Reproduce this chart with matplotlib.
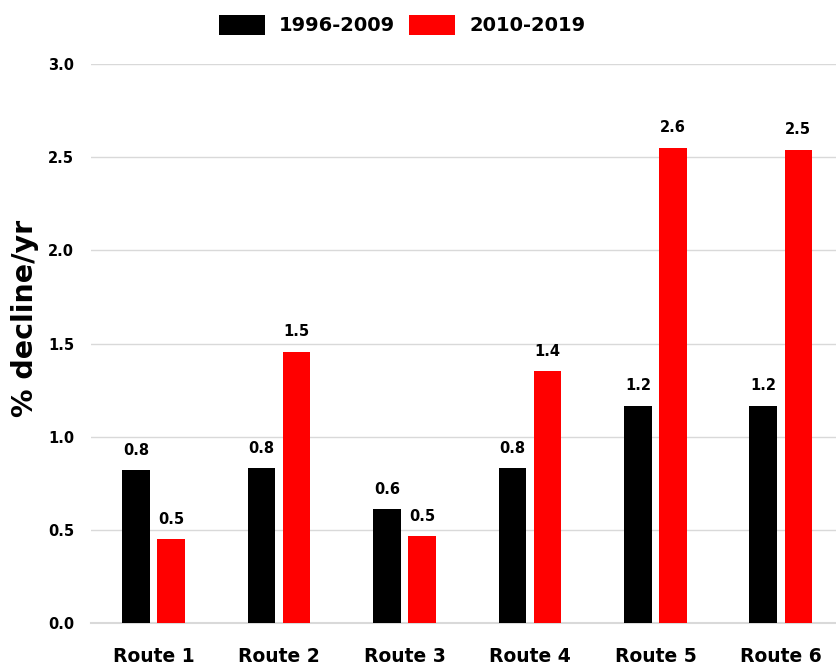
import numpy as np
import matplotlib.pyplot as plt

# data
routes = ['Route 1', 'Route 2', 'Route 3', 'Route 4', 'Route 5', 'Route 6']
early = [0.82, 0.83, 0.61, 0.83, 1.165, 1.165]
late = [0.45, 1.455, 0.465, 1.35, 2.551, 2.54]
series = ['1996-2009', '2010-2019']
yticks = [0.0, 0.5, 1.0, 1.5, 2.0, 2.5, 3.0]

plt.rc('font', family='DejaVu Sans', weight='bold')

fig = plt.figure(figsize=(8.36, 6.67), dpi=100)
ax = fig.add_axes([91 / 836, 44 / 667, 745 / 836, 559 / 667])

x = np.arange(len(routes))
w = 0.22
b1 = ax.bar(x - 0.14, early, w, color='black', label=series[0], zorder=3)
b2 = ax.bar(x + 0.14, late, w, color='#ff0000', label=series[1], zorder=3)
ax.bar_label(b1, fmt='%.1f', padding=9, fontsize=10.5, fontweight='bold')
ax.bar_label(b2, fmt='%.1f', padding=9, fontsize=10.5, fontweight='bold')

ax.set_xlim(-0.5, 5.44)
ax.set_ylim(0, 3.0)
ax.set_yticks(yticks)
ax.set_yticklabels(['%.1f' % t for t in yticks], fontsize=10.5, fontweight='bold')
ax.set_xticks(x)
ax.set_xticklabels(routes, fontsize=13.5, fontweight='bold')
ax.tick_params(length=0)
ax.tick_params(axis='x', pad=17)
ax.tick_params(axis='y', pad=12)

ax.grid(axis='y', color='#d9d9d9', linewidth=1, zorder=0)
ax.axhline(0, color='#d9d9d9', linewidth=1.5, zorder=2, clip_on=False)
for s in ax.spines.values():
    s.set_visible(False)

fig.text(25 / 836, 1 - 318 / 667, '% decline/yr', rotation=90, ha='center', va='center',
         fontsize=20.5, fontweight='bold')

ax.legend(loc='upper center', bbox_to_anchor=(402 / 836, 1.0), bbox_transform=fig.transFigure,
          ncol=2, frameon=False, fontsize=14, handlelength=2.4, handleheight=1.25,
          handletextpad=0.7, columnspacing=0.7, borderaxespad=0.35)

fig.savefig('out.png', dpi=100)
